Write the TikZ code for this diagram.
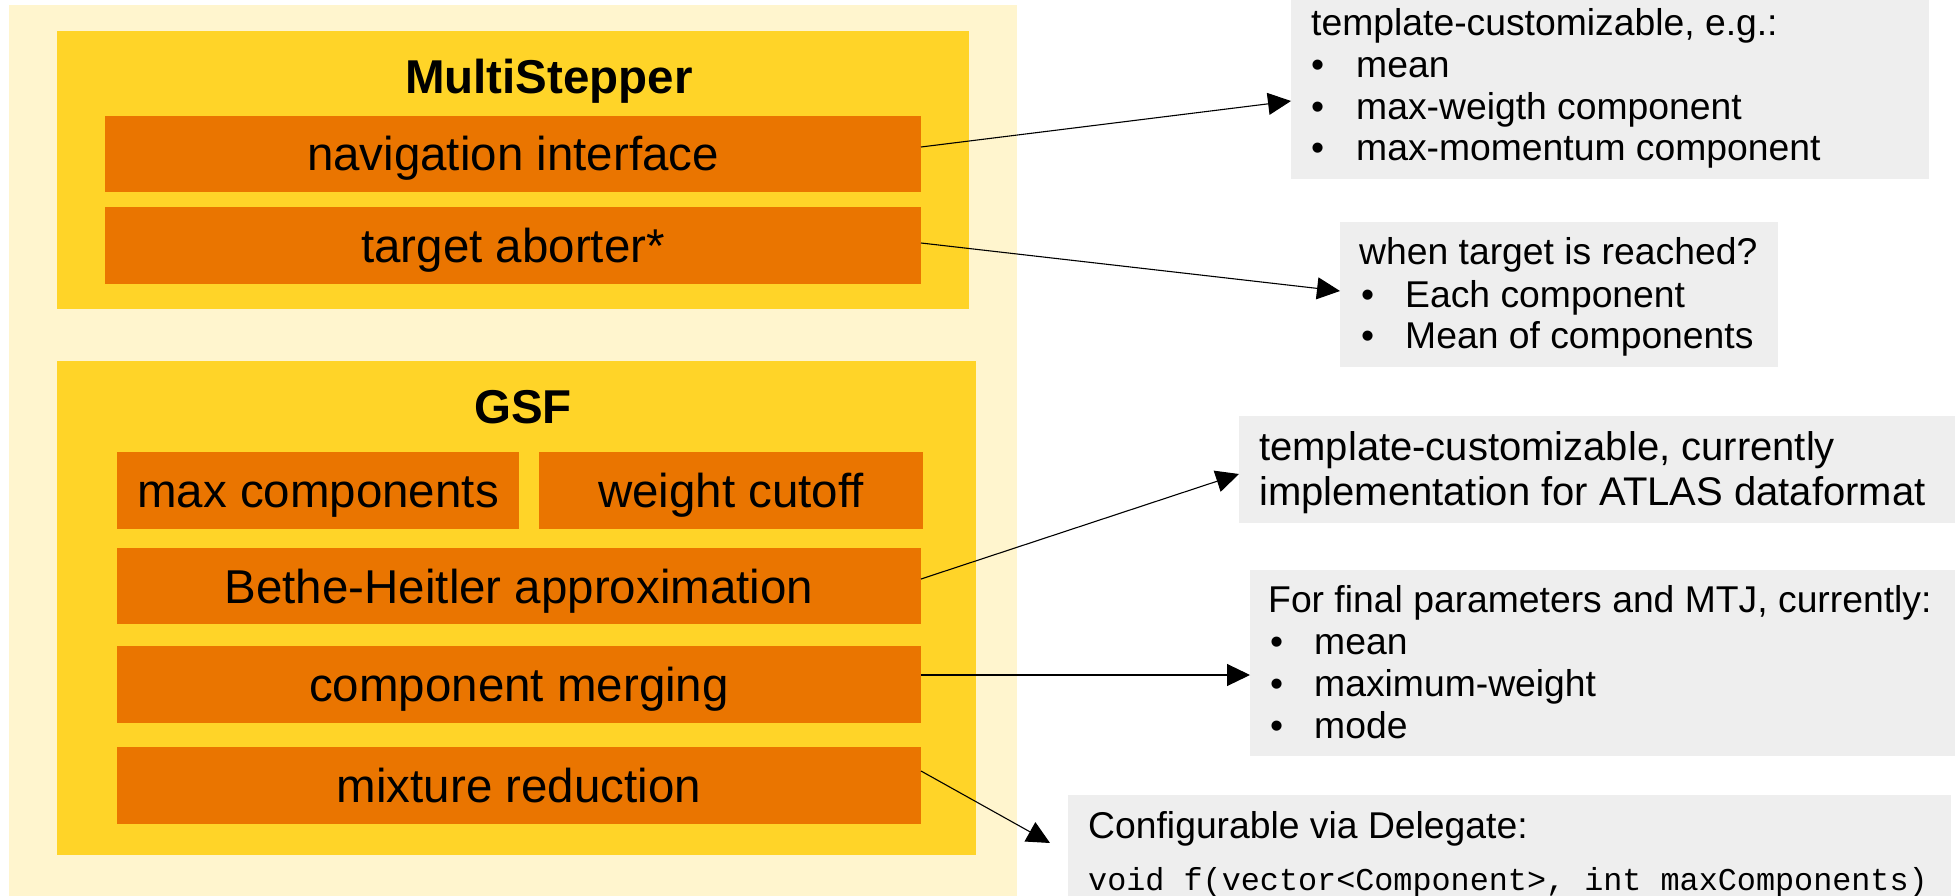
\documentclass[tikz,border=0pt]{standalone}
\usepackage{fontspec}
\setmainfont{Liberation Sans}
\setmonofont{Liberation Mono}
\usetikzlibrary{arrows.meta}
\definecolor{outerbg}{HTML}{FFF5CE}
\definecolor{goldbg}{HTML}{FFD428}
\definecolor{orangebg}{HTML}{EA7500}
\definecolor{graybg}{HTML}{EEEEEE}
\begin{document}
\begin{tikzpicture}[x=1pt,y=-1pt,
  plainbox/.style={draw=none, inner sep=0pt, outer sep=0pt},
  orangebox/.style={plainbox, fill=orangebg, minimum height=77pt,
    font=\fontsize{47.5}{57}\selectfont, text height=34pt, text depth=0pt},
  titletext/.style={inner sep=0pt, anchor=base, font=\bfseries\fontsize{47.5}{57}\selectfont},
  graybox/.style={plainbox, fill=graybg},
  notetext/.style={inner sep=0pt, anchor=base west, font=\fontsize{37.3}{42}\selectfont},
  bigtext/.style={inner sep=0pt, anchor=base west, font=\fontsize{40}{45}\selectfont},
  codetext/.style={inner sep=0pt, anchor=base west, font=\ttfamily\fontsize{31.8}{38}\selectfont},
  conn/.style={line width=1.1pt, -{Triangle[length=23pt, width=22pt]}}
]
\useasboundingbox (0,0) rectangle (1955,896);

% outer background
\node[plainbox, fill=outerbg, minimum width=1008pt, minimum height=891pt] (outer) at (513,450.5) {};

% MultiStepper
\node[plainbox, fill=goldbg, minimum width=912pt, minimum height=278pt] (ms) at (513,170) {};
\node[titletext] (mstitle) at (549,94) {MultiStepper};
\node[orangebox, minimum width=816pt, minimum height=76pt] (nav) at (513,154) {navigation interface};
\node[orangebox, minimum width=816pt] (abort) at (513,245.5) {target aborter*};

% GSF
\node[plainbox, fill=goldbg, minimum width=919pt, minimum height=494pt] (gsf) at (516.5,608) {};
\node[titletext] (gsftitle) at (523,423) {GSF};
\node[orangebox, minimum width=402pt] (maxc) at (318,490.5) {max components};
\node[orangebox, minimum width=384pt] (wcut) at (731,490.5) {weight cutoff};
\node[orangebox, minimum width=804pt, minimum height=76pt] (bethe) at (519,586) {Bethe-Heitler approximation};
\node[orangebox, minimum width=804pt] (merge) at (519,684.5) {component merging};
\node[orangebox, minimum width=804pt] (mixred) at (519,785.5) {mixture reduction};

% note 1
\node[graybox, minimum width=638pt, minimum height=179pt] (n1) at (1610,89.5) {};
\node[notetext] (n1a) at (1311,36) {template-customizable, e.g.:};
\node[notetext] (n1b) at (1311,78) {•};
\node[notetext] (n1c) at (1356,78) {mean};
\node[notetext] (n1d) at (1311,119.5) {•};
\node[notetext] (n1e) at (1356,119.5) {max-weigth component};
\node[notetext] (n1f) at (1311,161) {•};
\node[notetext] (n1g) at (1356,161) {max-momentum component};

% note 2
\node[graybox, minimum width=438pt, minimum height=145pt] (n2) at (1559,294.5) {};
\node[notetext] (n2a) at (1359,265) {when target is reached?};
\node[notetext] (n2b) at (1361,307) {•};
\node[notetext] (n2c) at (1405,307) {Each component};
\node[notetext] (n2d) at (1361,348) {•};
\node[notetext] (n2e) at (1405,348) {Mean of components};

% note 3
\node[graybox, minimum width=716pt, minimum height=107pt] (n3) at (1597,469.5) {};
\node[bigtext] (n3a) at (1259,460) {template-customizable, currently};
\node[bigtext] (n3b) at (1259,505) {implementation for ATLAS dataformat};

% note 4
\node[graybox, minimum width=705pt, minimum height=186pt] (n4) at (1602.5,663) {};
\node[notetext] (n4a) at (1268,612) {For final parameters and MTJ, currently:};
\node[notetext] (n4b) at (1270,654.5) {•};
\node[notetext] (n4c) at (1314,654.5) {mean};
\node[notetext] (n4d) at (1270,696.5) {•};
\node[notetext] (n4e) at (1314,696.5) {maximum-weight};
\node[notetext] (n4f) at (1270,738) {•};
\node[notetext] (n4g) at (1314,738) {mode};

% note 5
\node[graybox, minimum width=883pt, minimum height=101pt] (n5) at (1509.5,845.5) {};
\node[notetext] (n5a) at (1088,838) {Configurable via Delegate:};
\node[codetext] (n5b) at (1088,890) {void f(vector<Component>, int maxComponents)};

% connectors
\draw[conn] ([yshift=7pt]nav.east) -- ([yshift=-11.5pt]n1.west);
\draw[conn] ([yshift=2.5pt]abort.east) -- ([yshift=3.5pt]n2.west);
\draw[conn] ([yshift=7pt]bethe.east) -- ([yshift=-4.5pt]n3.west);
\draw[conn] ([yshift=9.5pt]merge.east) -- ([yshift=-12pt]n4.west);
\draw[conn] ([yshift=14.5pt]mixred.east) -- ([xshift=-18pt,yshift=2.5pt]n5.west);
\end{tikzpicture}
\end{document}
